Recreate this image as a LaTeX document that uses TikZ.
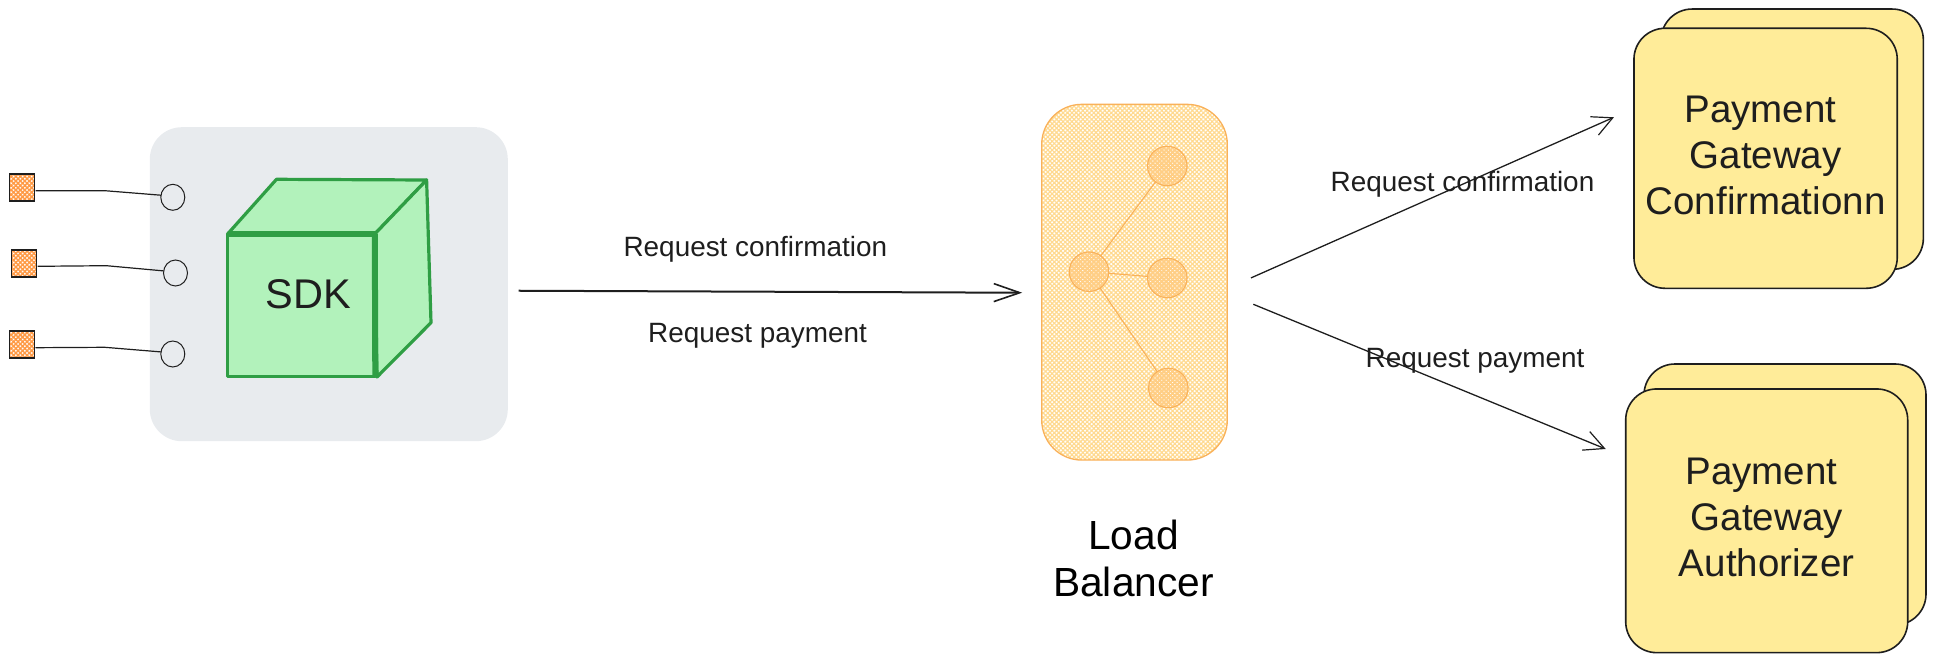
\documentclass[tikz,border=0pt]{standalone}
\usepackage{fontspec}
\setmainfont{Liberation Sans}
\usetikzlibrary{shapes.geometric,arrows.meta,patterns.meta,calc}
\definecolor{inkgrey}{HTML}{1E1E1E}
\definecolor{sdkgrey}{HTML}{E8EBEE}
\definecolor{cubefill}{HTML}{B2F2BB}
\definecolor{cubeline}{HTML}{2F9E44}
\definecolor{cardfill}{HTML}{FFEC99}
\definecolor{lbline}{HTML}{F9B15A}
\definecolor{lbhatch}{HTML}{FFD98F}
\definecolor{hubhatch}{HTML}{FFCE85}
\definecolor{pinhatch}{HTML}{FF9A45}

\begin{document}
\begin{tikzpicture}[x=1pt,y=-1pt,every node/.style={inner sep=0pt,outer sep=0pt,text=inkgrey,font=\fontsize{27.9}{32}\selectfont}]
\tikzset{
    flow/.style={draw=inkgrey, line width=1.3pt, -{Straight Barb[length=20pt,width=20pt,line width=1.2pt]}},
    wire/.style={draw=inkgrey, line width=1.2pt},
    pinbox/.style={rectangle, draw=inkgrey, line width=1.3pt, minimum width=25pt, minimum height=27pt, pattern={Hatch[angle=45,distance=3.2pt,line width=1.5pt]}, pattern color=pinhatch},
    portnode/.style={ellipse, draw=inkgrey, line width=1pt, minimum width=24pt, minimum height=26pt},
    hub/.style={circle, draw=lbline, line width=1.1pt, minimum size=39.5pt, pattern={Hatch[angle=45,distance=3.1pt,line width=1.9pt]}, pattern color=hubhatch},
    card/.style={rectangle, draw=inkgrey, line width=1.6pt, fill=cardfill, rounded corners=31pt, align=center, font=\fontsize{38.5}{45.8}\selectfont},
    cubeface/.style={fill=cubefill, draw=cubeline, line width=3.2pt, line join=round}
}
\useasboundingbox (0,0) rectangle (1936,663);

% sdk side
\node[rectangle, fill=sdkgrey, rounded corners=32pt, minimum width=358pt, minimum height=314pt] (sdkbox) at (328.8,284.2) {};
\node[pinbox] (pina) at (22,187.5) {};
\node[pinbox] (pinb) at (24.2,263.5) {};
\node[pinbox] (pinc) at (22,344.5) {};
\node[portnode] (porta) at (172.8,197.3) {};
\node[portnode] (portb) at (175.5,273) {};
\node[portnode] (portc) at (172.8,354) {};
\coordinate (benda) at (104.8,190.7);
\coordinate (bendb) at (106.5,265.7);
\coordinate (bendc) at (104.8,347.3);
\draw[wire] ([xshift=1pt,yshift=-3.2pt]pina.east) -- (benda) -- (porta.170);
\draw[wire] ([xshift=1pt,yshift=-2.8pt]pinb.east) -- (bendb) -- (portb.170);
\draw[wire] ([xshift=1pt,yshift=-3.2pt]pinc.east) -- (bendc) -- (portc.170);

% cube
\draw[cubeface] (227.6,234) -- (276.5,179.3) -- (426.6,180) -- (374.8,234) -- cycle;
\draw[cubeface] (374.8,234) -- (426.6,180) -- (431,322.7) -- (377,377) -- cycle;
\draw[cubeface] (227.6,234) rectangle (375.3,376.7);
\draw[cubeline, line width=5.5pt] (227.6,234) -- (374.8,234);
\draw[cubeline, line width=6pt] (374.8,234) -- (375.3,377);
\node[anchor=base, font=\fontsize{41.5}{40}\selectfont] (sdklabel) at (308.6,308.3) {SDK};

% load balancer
\node[rectangle, draw=lbline, line width=1.3pt, rounded corners=40pt, minimum width=185.6pt, minimum height=355.7pt, pattern={Hatch[angle=45,distance=3.1pt,line width=1.2pt]}, pattern color=lbhatch] (lbbox) at (1134.5,282.2) {};
\node[hub] (hubmain) at (1089,271.7) {};
\node[hub] (huba) at (1167.3,166) {};
\node[hub] (hubb) at (1167.3,278) {};
\node[hub] (hubc) at (1168.3,388) {};
\draw[lbline, line width=1.1pt] (hubmain) -- (huba);
\draw[lbline, line width=1.1pt] (hubmain) -- (hubb);
\draw[lbline, line width=1.1pt] (hubmain) -- (hubc);
\node[anchor=base, align=center, text=black, font=\fontsize{40.7}{46.7}\selectfont] (lblabel) at (1133.5,596) {Load\\Balancer};

% gateways
\node[card, minimum width=262.3pt, minimum height=260.3pt] (confback) at (1792.2,139.2) {};
\node[card, minimum width=263.3pt, minimum height=260pt, text depth=6pt] (gwconf) at (1765.6,158.3) {Payment\kern10.5pt\\Gateway\\Confirmationn};
\node[card, minimum width=282pt, minimum height=261pt] (authback) at (1785,494.5) {};
\node[card, minimum width=282pt, minimum height=263.7pt, text depth=7pt] (gwauth) at (1766.7,520.8) {Payment\kern10.5pt\\Gateway\\Authorizer};

% flows
\draw[flow, line width=2pt, -{Straight Barb[length=26pt,width=18pt,line width=1.6pt]}, shorten <=10.7pt, shorten >=19.5pt] ([yshift=-6.5pt]sdkbox.east) -- ([yshift=-10.6pt]lbbox.west);
\draw[flow, shorten <=25.9pt, shorten >=21.9pt] ([yshift=-6.2pt]lbbox.east) -- ([yshift=49.9pt]gwconf.west);
\draw[flow, shorten <=28.1pt, shorten >=21.6pt] ([yshift=-11.4pt]lbbox.east) -- ([yshift=63.6pt]gwauth.west);

\node[anchor=base] (reqconf) at (755.4,256.7) {Request confirmation};
\node[anchor=base] (reqpay) at (757.5,342.3) {Request payment};
\node[anchor=base] (outconf) at (1462.5,191.7) {Request confirmation};
\node[anchor=base] (outpay) at (1475,367.7) {Request payment};
\end{tikzpicture}
\end{document}
